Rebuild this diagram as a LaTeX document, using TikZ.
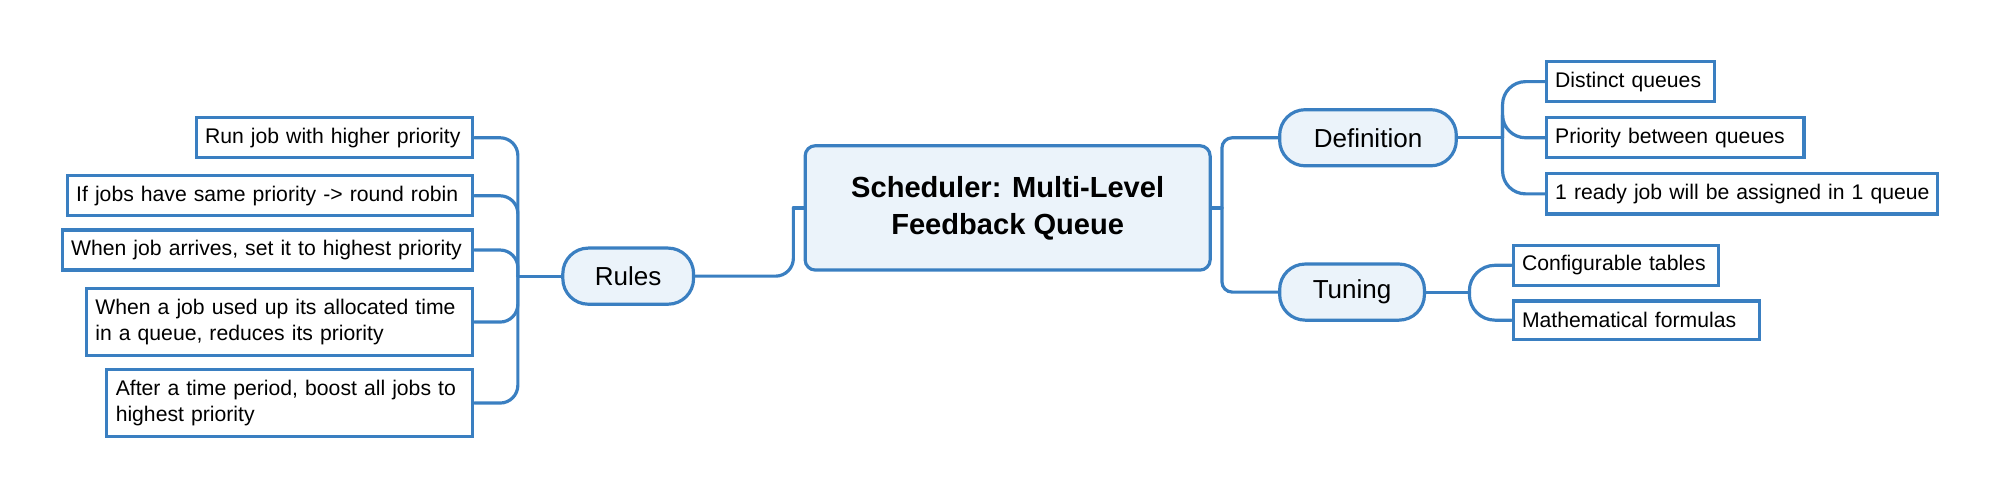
\documentclass[tikz,border=0pt]{standalone}
\usepackage{fontspec}
\setmainfont{Liberation Sans}
\usepackage{tikz}
\definecolor{mapblue}{HTML}{3A7FC1}
\definecolor{mapfill}{HTML}{EBF3FA}
\tikzset{
  link/.style={draw=mapblue, line width=1.25pt, line cap=round, rounded corners=7pt},
  root/.style={draw=mapblue, fill=mapfill, line width=1.25pt, rounded corners=4pt, align=center,
    minimum width=158.75pt, minimum height=48.75pt, font=\bfseries\fontsize{11.4}{14.5}\selectfont},
  branch/.style={draw=mapblue, fill=mapfill, line width=1.25pt, rounded corners=10pt,
    minimum height=22pt, font=\fontsize{10.2}{12}\selectfont},
  leaf/.style={draw=mapblue, fill=white, line width=1.25pt, inner xsep=3.5pt, inner ysep=4pt,
    minimum height=15pt, align=left, font=\fontsize{8.3}{10.5}\selectfont}
}
\begin{document}
\begin{tikzpicture}[x=0.5pt, y=-0.5pt]
  \useasboundingbox (0,0) rectangle (1568,391);
  \node[root] (root) at (790,163) {Scheduler: Multi-Level\\Feedback Queue};
  \node[branch, minimum width=51.25pt] (rules) at (492.5,216.5) {Rules};
  \node[branch, minimum width=69.25pt] (def) at (1072.5,108) {Definition};
  \node[branch, minimum width=56.75pt] (tun) at (1060,229) {Tuning};
  % rules side
  \coordinate (ltrunk) at (406,216.5);
  \foreach \n/\y/\w/\txt in {run/108/101.5/{\mbox{Run job with higher priority}},
      same/153.5/152/{\mbox{If jobs have same priority -> round robin}},
      arrive/196/154/{\mbox{When job arrives, set it to highest priority}},
      used/252.5/144.5/{When a job used up its allocated time\\in a queue, reduces its priority},
      boost/316/136.5/{After a time period, boost all jobs to\\highest priority}}{
    \node[leaf, anchor=east, text width=\w pt] (\n) at (372,\y) {\txt};
    \draw[link] (\n.east) -| (ltrunk);}
  \draw[link] (ltrunk) -- (rules.west);
  \coordinate (rjoin) at (622,163);
  \draw[link] (rules.east) -| (rjoin);
  \draw[link] (rjoin) -- (root.west);
  % definition and tuning
  \coordinate (rtrunk) at (958,163);
  \draw[link] (root.east) -- (rtrunk);
  \draw[link, rounded corners=4pt] (rtrunk) |- (def.west);
  \draw[link, rounded corners=4pt] (rtrunk) |- (tun.west);
  \coordinate (dtrunk) at (1178,108);
  \draw[link] (def.east) -- (dtrunk);
  \foreach \n/\y/\w/\txt in {distinct/64/59/{\mbox{Distinct queues}},
      prio/108/94/{\mbox{Priority between queues}},
      ready/152/146.5/{\mbox{1 ready job will be assigned in 1 queue}}}{
    \node[leaf, anchor=west, text width=\w pt] (\n) at (1211,\y) {\txt};
    \draw[link, rounded corners=9pt] (dtrunk) |- (\n.west);}
  \coordinate (ttrunk) at (1152,229);
  \draw[link] (tun.east) -- (ttrunk);
  \foreach \n/\y/\w/\txt in {conf/208/73.5/{\mbox{Configurable tables}},
      math/251/89.5/{\mbox{Mathematical formulas}}}{
    \node[leaf, anchor=west, text width=\w pt] (\n) at (1185,\y) {\txt};
    \draw[link, rounded corners=10pt] (ttrunk) |- (\n.west);}
\end{tikzpicture}
\end{document}
